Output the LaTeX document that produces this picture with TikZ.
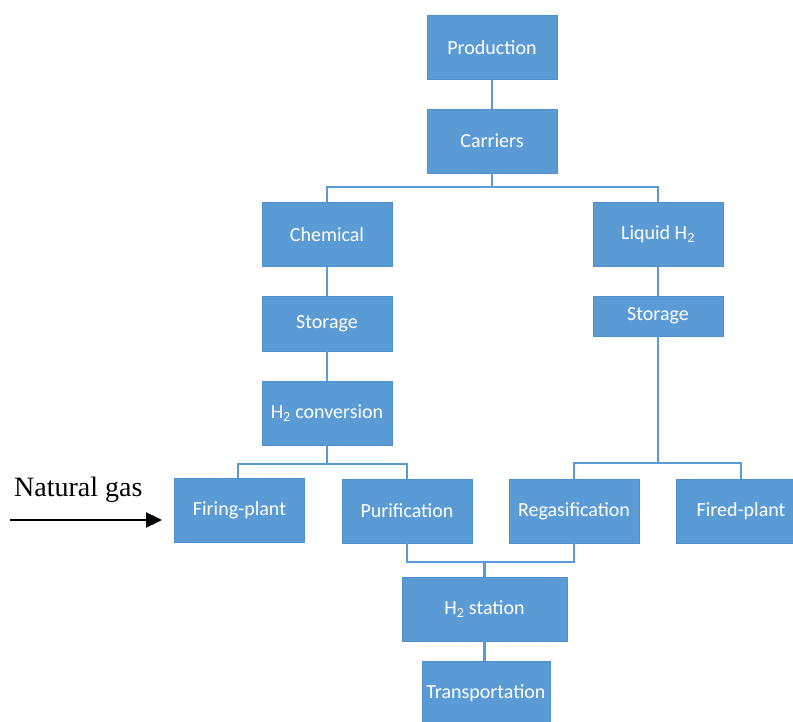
\documentclass[tikz,border=0pt]{standalone}
\usepackage{fontspec}
\setmainfont{Carlito}
\newfontfamily\serifng{Liberation Serif}
\usetikzlibrary{arrows.meta}
\definecolor{boxblue}{HTML}{5B9BD5}
\definecolor{boxedge}{HTML}{4F8FCB}
\begin{document}
\begin{tikzpicture}[x=1pt,y=-1pt,
  box/.style={fill=boxblue,draw=boxedge,line width=0.6pt,text=white,
    font=\fontsize{20}{24}\selectfont,inner sep=0pt,
    minimum width=130pt,minimum height=64pt},
  conn/.style={draw=boxblue,line width=2.3pt}]
\useasboundingbox (0,0) rectangle (793,722);
\clip (0,0) rectangle (793,722);
% nodes
\node[box] (prod) at (492,47.5) {Production};
\node[box] (carr) at (492,141) {Carriers};
\node[box] (chem) at (327,234.5) {Chemical};
\node[box] (liq) at (658,234.5) {Liquid H\textsubscript{2}};
\node[box,minimum height=55pt] (stl) at (327,323.5) {Storage};
\node[box,minimum height=40pt] (str) at (658,316) {Storage};
\node[box] (conv) at (327,413) {H\textsubscript{2} conversion};
\node[box] (fire) at (239.5,510.5) {Firing-plant};
\node[box] (puri) at (407,511) {Purification};
\node[box] (rega) at (574,511) {Regasification};
\node[box] (fired) at (741,511) {Fired-plant};
\node[box,minimum width=165pt] (stat) at (484.5,609) {H\textsubscript{2} station};
\node[box,minimum width=128pt] (trans) at (486,693) {Transportation};
\node[anchor=base west,inner sep=0pt,font=\serifng\fontsize{28}{32}\selectfont] (ng) at (14,496) {Natural gas};
% junction coordinates
\coordinate (j1) at (492,187);
\coordinate (j2) at (327,464);
\coordinate (j3) at (658,463);
\coordinate (j4) at (484.5,562);
\coordinate (a0) at (10,520);
\coordinate (a1) at (162,520);
% connectors
\draw[conn] (prod.south) -- (carr.north);
\draw[conn] (carr.south) -- (j1);
\draw[conn] (j1) -| (chem.north);
\draw[conn] (j1) -| (liq.north);
\draw[conn] (chem.south) -- (stl.north);
\draw[conn] (stl.south) -- (conv.north);
\draw[conn] (liq.south) -- (str.north);
\draw[conn] (conv.south) -- (j2);
\draw[conn] (j2) -| ([xshift=-1.5pt]fire.north);
\draw[conn] (j2) -| (puri.north);
\draw[conn] (str.south) -- (j3);
\draw[conn] (j3) -| (rega.north);
\draw[conn] (j3) -| (fired.north);
\draw[conn] (puri.south) |- (j4);
\draw[conn] (rega.south) |- (j4);
\draw[conn] (j4) -- (stat.north);
\draw[conn] (stat.south) -- ([xshift=-1.5pt]trans.north);
\draw[line width=2.4pt,-{Triangle[length=16pt,width=15pt]}] (a0) -- (a1);
\end{tikzpicture}
\end{document}
